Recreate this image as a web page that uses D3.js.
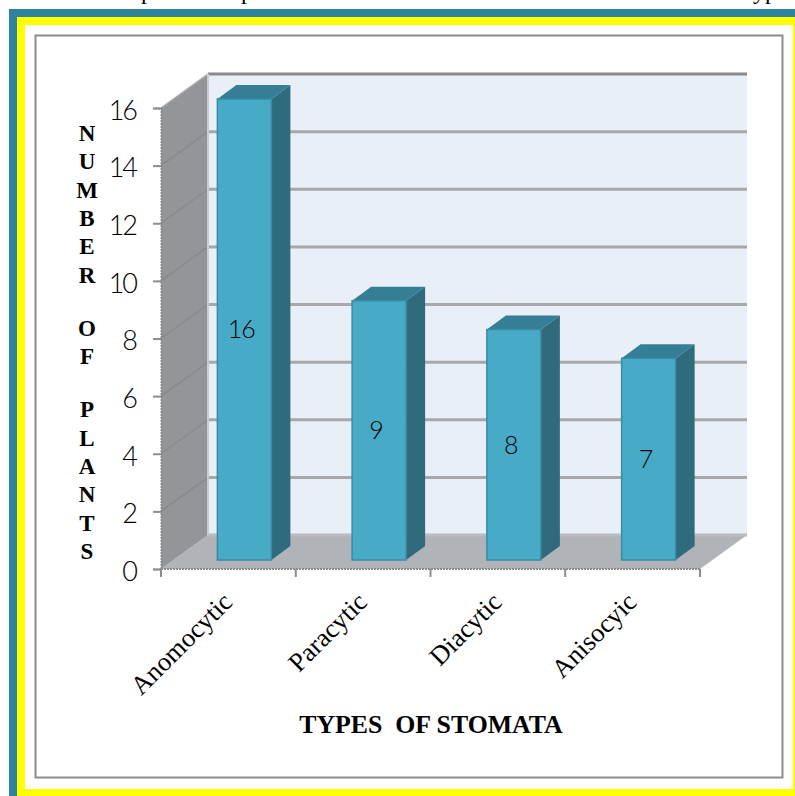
<!DOCTYPE html>
<html>
<head>
<meta charset="utf-8">
<script src="https://cdn.jsdelivr.net/npm/d3@7/dist/d3.min.js"></script>
<style>
    html, body { margin: 0; padding: 0; background: #fff; }
    svg { display: block; }
</style>
</head>
<body>
<div id="chart"></div>
<script>
const categories = ['Anomocytic', 'Paracytic', 'Diacytic', 'Anisocyic'];
const plantCounts = [16, 9, 8, 7];
const valueTicks = [0, 2, 4, 6, 8, 10, 12, 14, 16];
const yTitleWords = ['NUMBER', 'OF', 'PLANTS'];
const xTitle = 'TYPES  OF STOMATA';
// what is left of the caption line cut off by the crop
const captionBits = ['p', 'p', 'yp'];
const captionAt = [147, 247, 765];

const width = 795;
const height = 796;

const svg = d3.select('#chart').append('svg')
    .attr('width', width)
    .attr('height', height);

svg.append('g').selectAll('text')
    .data(captionBits)
    .join('text')
    .attr('x', (d, i) => captionAt[i])
    .attr('y', -1)
    .attr('text-anchor', 'middle')
    .attr('font-family', '"Liberation Serif", serif')
    .attr('font-size', 24)
    .text(d => d);

// page frame
svg.append('rect').attr('x', 9).attr('y', 9).attr('width', 786).attr('height', 787).attr('fill', '#30839f');
svg.append('rect').attr('x', 17).attr('y', 17).attr('width', 778).attr('height', 779).attr('fill', '#ffff00');
svg.append('rect').attr('x', 25).attr('y', 25).attr('width', 768).attr('height', 764).attr('fill', '#fff');
svg.append('rect').attr('x', 35.5).attr('y', 35.5).attr('width', 747).attr('height', 742)
    .attr('fill', 'none').attr('stroke', '#8c8c8c').attr('stroke-width', 2);

const x = d3.scaleBand().domain(categories).range([161, 700]);
const y = d3.scaleLinear().domain([0, 16]).range([569, 108]);

// depth offset of the back wall, and of the bars inside the box
const wallDx = 47, wallDy = -34;
const barOffDy = -9;
const barDepthDx = 19, barDepthDy = -14;
const barWidth = 54;

const poly = pts => pts.map(p => p.join(',')).join(' ');

// floor
svg.append('polygon')
    .attr('points', poly([[x.range()[0], y(0)], [x.range()[1], y(0)],
        [x.range()[1] + wallDx, y(0) + wallDy], [x.range()[0] + wallDx, y(0) + wallDy]]))
    .attr('fill', '#b0b3b7');

// back wall
svg.append('rect')
    .attr('x', x.range()[0] + wallDx)
    .attr('y', y(16) + wallDy)
    .attr('width', x.range()[1] - x.range()[0])
    .attr('height', y(0) - y(16))
    .attr('fill', '#e8eff6');

// side wall
svg.append('polygon')
    .attr('points', poly([[x.range()[0], y(0)], [x.range()[0], y(16)],
        [x.range()[0] + wallDx, y(16) + wallDy], [x.range()[0] + wallDx, y(0) + wallDy]]))
    .attr('fill', '#939598');

// gridlines on the back wall
svg.append('g').attr('stroke-width', 3).selectAll('line')
    .data(valueTicks)
    .join('line')
    .attr('x1', x.range()[0] + wallDx)
    .attr('x2', x.range()[1] + wallDx)
    .attr('y1', d => y(d) + wallDy)
    .attr('y2', d => y(d) + wallDy)
    .attr('stroke', d => d === 16 ? '#8a8a8a' : (d === 0 ? '#b9bcc0' : '#a6a8ab'));

// and on the side wall, much fainter
svg.append('g').attr('stroke-width', 1.5).selectAll('line')
    .data(valueTicks.filter(d => d > 0))
    .join('line')
    .attr('x1', x.range()[0])
    .attr('x2', x.range()[0] + wallDx)
    .attr('y1', d => y(d))
    .attr('y2', d => y(d) + wallDy)
    .attr('stroke', d => d === 16 ? '#a8aaad' : '#87898c');

// wall edge between side wall and back wall
svg.append('line')
    .attr('x1', x.range()[0] + wallDx).attr('x2', x.range()[0] + wallDx)
    .attr('y1', y(16) + wallDy).attr('y2', y(0) + wallDy)
    .attr('stroke', '#c9ccd0').attr('stroke-width', 2);

// bars
const bars = svg.append('g').selectAll('g')
    .data(categories.map((c, i) => ({ name: c, value: plantCounts[i] })))
    .join('g');

const barLeft = d => x(d.name) + (x.bandwidth() - barWidth) / 2 + 16;
const frontTop = d => y(d.value) + barOffDy;
const frontBottom = y(0) + barOffDy;

bars.append('polygon')
    .attr('points', d => poly([[barLeft(d) + barWidth, frontTop(d)], [barLeft(d) + barWidth, frontBottom],
        [barLeft(d) + barWidth + barDepthDx, frontBottom + barDepthDy],
        [barLeft(d) + barWidth + barDepthDx, frontTop(d) + barDepthDy]]))
    .attr('fill', '#2f6b7c');

bars.append('polygon')
    .attr('points', d => poly([[barLeft(d), frontTop(d)], [barLeft(d) + barWidth, frontTop(d)],
        [barLeft(d) + barWidth + barDepthDx, frontTop(d) + barDepthDy],
        [barLeft(d) + barDepthDx, frontTop(d) + barDepthDy]]))
    .attr('fill', '#347f96');

bars.append('rect')
    .attr('x', barLeft)
    .attr('y', frontTop)
    .attr('width', barWidth)
    .attr('height', d => frontBottom - frontTop(d))
    .attr('fill', '#47abc8')
    .attr('stroke', '#3a8ba4')
    .attr('stroke-width', 1.5);

bars.append('text')
    .attr('x', d => barLeft(d) + barWidth / 2 - 3)
    .attr('y', d => (frontTop(d) + frontBottom) / 2)
    .attr('dy', '0.35em')
    .attr('text-anchor', 'middle')
    .attr('font-family', 'Lato, sans-serif')
    .attr('font-weight', 300)
    .attr('font-size', 25)
    .attr('letter-spacing', -1)
    .attr('fill', '#000')
    .text(d => d.value);

// axes
const yAxis = d3.axisLeft(y).tickValues(valueTicks).tickSize(8).tickPadding(17);
const gy = svg.append('g').attr('transform', `translate(${x.range()[0]},0)`).call(yAxis);
gy.selectAll('text')
    .attr('dy', '0.42em')
    .attr('font-family', 'Lato, sans-serif')
    .attr('font-weight', 300)
    .attr('font-size', 27)
    .attr('letter-spacing', -2)
    .attr('fill', '#000');

const xEdges = categories.map(c => x(c)).concat(x.range()[1]);
const axisG = svg.append('g').attr('stroke', '#8c8c8c');
axisG.append('line')
    .attr('x1', x.range()[0]).attr('x2', x.range()[1])
    .attr('y1', y(0)).attr('y2', y(0))
    .attr('stroke-width', 2).attr('stroke-dasharray', '2 1');
axisG.selectAll('.xtick')
    .data(xEdges)
    .join('line')
    .attr('class', 'xtick')
    .attr('x1', d => d).attr('x2', d => d)
    .attr('y1', y(0)).attr('y2', y(0) + 8)
    .attr('stroke-width', 2);
gy.select('.domain').attr('stroke', '#8c8c8c').attr('stroke-width', 2).attr('stroke-dasharray', '2 1');
gy.selectAll('.tick line').attr('stroke', '#8c8c8c').attr('stroke-width', 2);

// category labels
svg.append('g').selectAll('text')
    .data(categories)
    .join('text')
    .attr('transform', d => `translate(${x(d) + x.bandwidth() / 2 - 1},597) rotate(-45)`)
    .attr('text-anchor', 'end')
    .attr('dy', '0.35em')
    .attr('font-family', '"Liberation Serif", serif')
    .attr('font-size', 26.5)
    .attr('fill', '#000')
    .text(d => d);

// axis titles
let letterY = 133;
yTitleWords.forEach(word => {
    word.split('').forEach(ch => {
        svg.append('text')
            .attr('x', 87).attr('y', letterY).attr('dy', '0.35em')
            .attr('text-anchor', 'middle')
            .attr('font-family', '"Liberation Serif", serif')
            .attr('font-weight', 'bold')
            .attr('font-size', 23)
            .text(ch);
        letterY += 28.3;
    });
    letterY += 25;
});

svg.append('text')
    .attr('x', 431).attr('y', 733)
    .attr('text-anchor', 'middle')
    .style('white-space', 'pre')
    .attr('font-family', '"Liberation Serif", serif')
    .attr('font-weight', 'bold')
    .attr('font-size', 25.8)
    .text(xTitle);
</script>
</body>
</html>
